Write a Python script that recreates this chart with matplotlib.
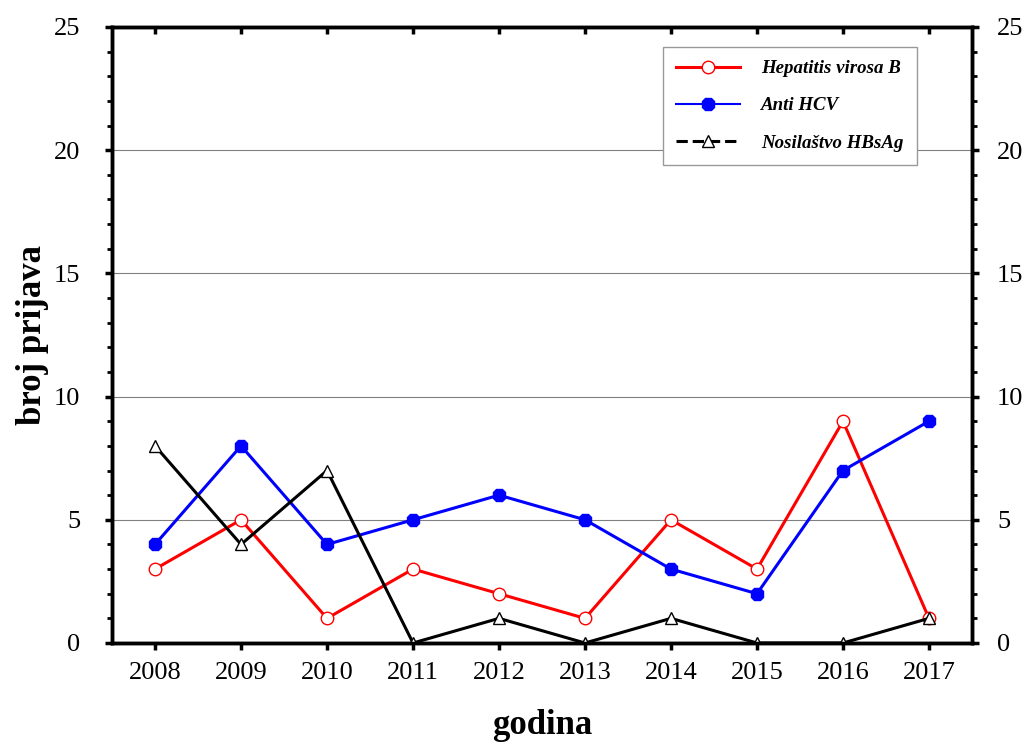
import matplotlib
matplotlib.use("Agg")
import matplotlib.pyplot as plt
from matplotlib.lines import Line2D
from matplotlib.ticker import MultipleLocator

years = [2008, 2009, 2010, 2011, 2012, 2013, 2014, 2015, 2016, 2017]
hep_b = [3, 5, 1, 3, 2, 1, 5, 3, 9, 1]
anti_hcv = [4, 8, 4, 5, 6, 5, 3, 2, 7, 9]
hbsag = [8, 4, 7, 0, 1, 0, 1, 0, 0, 1]
labels = ["Hepatitis virosa B", "Anti HCV", "Nosilaštvo HBsAg"]
yticks = [0, 5, 10, 15, 20, 25]

plt.rcParams['font.family'] = ['Liberation Serif', 'DejaVu Serif']

fig = plt.figure(figsize=(10.24, 7.43), dpi=100)
ax = fig.add_axes([0.1094, 0.1346, 0.8398, 0.8291])

ax.plot(years, hep_b, color='red', lw=2.2, marker='o', ms=9, mfc='white',
        mec='red', mew=1.0, zorder=3)
ax.plot(years, anti_hcv, color='blue', lw=2.2, marker='8', ms=10, mfc='blue',
        mec='blue', zorder=4)
ax.plot(years, hbsag, color='black', lw=2.2, marker='^', ms=8, mfc='white',
        mec='black', mew=1.0, zorder=5)

ax.set_xlim(2007.5, 2017.5)
ax.set_ylim(0, 25)
ax.set_xticks(years)
ax.set_yticks(yticks)
ax.yaxis.set_minor_locator(MultipleLocator(1))
ax.grid(axis='y', which='major', color='#808080', lw=0.8)
ax.set_axisbelow(True)

for s in ax.spines.values():
    s.set_linewidth(2.5)

ax.tick_params(axis='x', which='major', labelsize=19, width=2.5, length=5,
               direction='out', pad=9, top=True)
ax.tick_params(axis='y', which='major', labelsize=19, width=2.5, length=5,
               direction='out', pad=18)
ax.tick_params(axis='y', which='minor', width=2, length=3.5, direction='out')

# top ticks inward
for t in ax.xaxis.get_major_ticks():
    t.tick2line.set_marker(3)  # TICKDOWN
    t.tick2line.set_markersize(5)

# right axis
ax2 = ax.twinx()
ax2.set_ylim(0, 25)
ax2.set_yticks(yticks)
ax2.yaxis.set_minor_locator(MultipleLocator(1))
ax2.tick_params(axis='y', which='major', labelsize=19, width=2.5, length=5,
                direction='out', pad=13)
ax2.tick_params(axis='y', which='minor', width=2, length=3.5, direction='out')
for s in ax2.spines.values():
    s.set_linewidth(2.5)

ax.set_xlabel('godina', fontsize=25, fontweight='bold', labelpad=18)
ax.set_ylabel('broj prijava', fontsize=25, fontweight='bold', labelpad=3.5)

handles = [
    Line2D([], [], color='red', lw=2.2, marker='o', ms=9, mfc='white', mec='red'),
    Line2D([], [], color='blue', lw=1.5, marker='8', ms=10, mfc='blue', mec='blue'),
    Line2D([], [], color='black', lw=2.2, ls='--', marker='^', ms=8, mfc='white', mec='black'),
]
leg = ax2.legend(handles, labels, loc='upper right', bbox_to_anchor=(0.936, 0.9675),
                 borderaxespad=0,
                 prop={'size': 13.6, 'style': 'italic', 'weight': 'bold'},
                 fancybox=False, edgecolor='#999999', framealpha=1,
                 borderpad=0.7, labelspacing=1.05, handlelength=3.4,
                 handletextpad=1.1)
leg.get_frame().set_linewidth(1.0)

fig.savefig('out.png', dpi=100)
